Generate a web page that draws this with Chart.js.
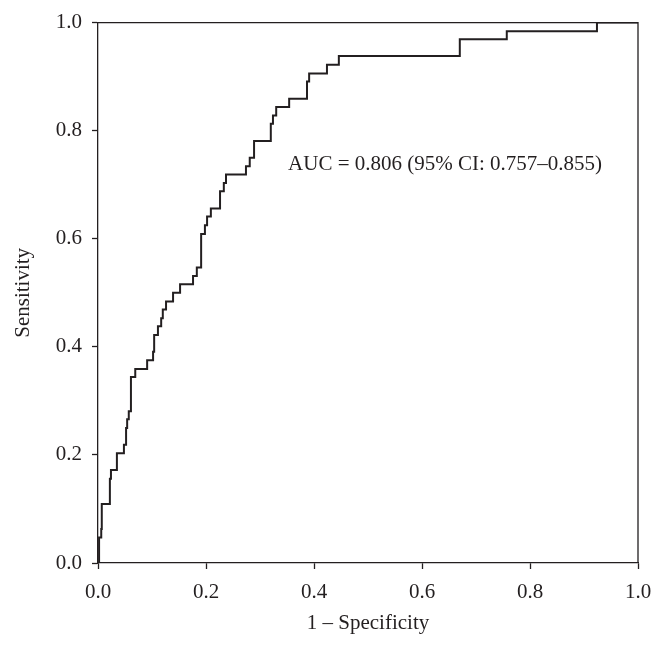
<!DOCTYPE html>
<html>
<head>
<meta charset="utf-8">
<script src="https://cdn.jsdelivr.net/npm/chart.js@4.4.1/dist/chart.umd.min.js"></script>
<style>
  html, body { margin: 0; padding: 0; background: #fff; }
  #wrap { width: 665px; height: 648px; }
</style>
</head>
<body>
<div id="wrap"><canvas id="grafico" width="665" height="648"></canvas></div>
<script>
// ROC curve (corner points of the staircase)
var fpr = [0, 0.002, 0.006, 0.007, 0.022, 0.024, 0.035, 0.048, 0.052, 0.054, 0.057,
  0.061, 0.069, 0.091, 0.102, 0.104, 0.111, 0.117, 0.120, 0.126, 0.139, 0.152,
  0.176, 0.183, 0.191, 0.198, 0.202, 0.209, 0.226, 0.233, 0.237, 0.274, 0.281,
  0.289, 0.320, 0.324, 0.330, 0.354, 0.387, 0.391, 0.424, 0.446, 0.670, 0.757,
  0.924, 1.0];
var tpr = [0, 0.047, 0.063, 0.109, 0.156, 0.172, 0.203, 0.219, 0.250, 0.266, 0.281,
  0.344, 0.359, 0.375, 0.391, 0.422, 0.438, 0.453, 0.469, 0.484, 0.500, 0.516,
  0.531, 0.547, 0.609, 0.625, 0.641, 0.656, 0.688, 0.703, 0.719, 0.734, 0.750,
  0.781, 0.813, 0.828, 0.844, 0.859, 0.891, 0.906, 0.922, 0.938, 0.969, 0.984,
  1.0, 1.0];
var tickValues = [0, 0.2, 0.4, 0.6, 0.8, 1.0];
var xTitle = '1 \u2013 Specificity';
var yTitle = 'Sensitivity';
var aucText = 'AUC = 0.806 (95% CI: 0.757\u20130.855)';

var puntos = [];
for (var i = 0; i < fpr.length; i++) {
  puntos.push({ x: fpr[i], y: tpr[i] });
}

var fuente = { family: "'Liberation Serif', 'DejaVu Serif', serif", size: 21 };
var negro = '#231f20';

// frame on top/right + AUC label
var marco = {
  id: 'marco',
  afterDraw: function(chart) {
    var ctx = chart.ctx;
    var a = chart.chartArea;
    ctx.save();
    ctx.strokeStyle = negro;
    ctx.lineWidth = 1.3;
    ctx.beginPath();
    ctx.moveTo(a.left, a.top);
    ctx.lineTo(a.right, a.top);
    ctx.lineTo(a.right, a.bottom);
    ctx.stroke();
    ctx.fillStyle = negro;
    ctx.font = fuente.size + 'px ' + fuente.family;
    ctx.textAlign = 'left';
    ctx.textBaseline = 'middle';
    var xs = chart.scales.x, ys = chart.scales.y;
    ctx.fillText(aucText, xs.getPixelForValue(0.352), ys.getPixelForValue(0.738));
    ctx.restore();
  }
};

var config = {
  type: 'scatter',
  data: {
    datasets: [{
      data: puntos,
      showLine: true,
      stepped: true,
      borderColor: negro,
      borderWidth: 2,
      pointRadius: 0,
      fill: false
    }]
  },
  options: {
    responsive: false,
    animation: false,
    layout: { padding: { left: 0, right: 27, top: 21, bottom: 0 } },
    plugins: { legend: { display: false }, tooltip: { enabled: false } },
    scales: {
      x: {
        type: 'linear',
        min: 0, max: 1,
        afterFit: function(s) { s.height = 85; },
        afterBuildTicks: function(s) { s.ticks = tickValues.map(function(v) { return { value: v }; }); },
        grid: { drawOnChartArea: false, drawTicks: true, tickLength: 6, tickWidth: 1.3, color: negro },
        border: { display: true, color: negro, width: 1.3 },
        ticks: { color: negro, font: fuente, padding: 11, maxRotation: 0,
          callback: function(v) { return v.toFixed(1); } },
        title: { display: true, text: xTitle, color: negro, font: fuente, padding: { top: 0, bottom: 12 } }
      },
      y: {
        type: 'linear',
        min: 0, max: 1,
        afterFit: function(s) { s.width = 98; },
        afterBuildTicks: function(s) { s.ticks = tickValues.map(function(v) { return { value: v }; }); },
        grid: { drawOnChartArea: false, drawTicks: true, tickLength: 6, tickWidth: 1.3, color: negro },
        border: { display: true, color: negro, width: 1.3 },
        ticks: { color: negro, font: fuente, padding: 10,
          callback: function(v) { return v.toFixed(1); } },
        title: { display: true, text: yTitle, color: negro, font: fuente, padding: { top: 11, bottom: 0 } }
      }
    }
  },
  plugins: [marco]
};

var myChart = new Chart(document.getElementById('grafico'), config);
</script>
</body>
</html>
